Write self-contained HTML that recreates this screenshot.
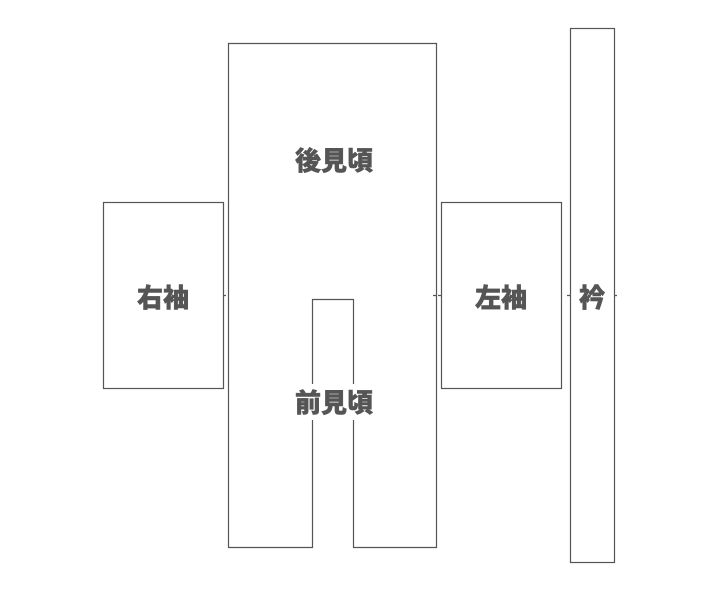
<!DOCTYPE html>
<html><head><meta charset="utf-8"><style>
html,body{margin:0;padding:0;background:#fff;width:720px;height:600px;overflow:hidden}
text{font-family:"Liberation Sans","Noto Sans CJK JP",sans-serif;font-weight:900;font-size:26px;fill:#555;stroke:#555;stroke-width:0.5}
</style></head><body>
<svg width="720" height="600" xmlns="http://www.w3.org/2000/svg">
<g fill="none" stroke="#555" stroke-width="1.2">
<path d="M228.5 43.5 H436.5 V547.5 H353.5 V299.5 H312.5 V547.5 H228.5 Z"/>
<rect x="103.5" y="202.5" width="120" height="186"/>
<rect x="441.5" y="202.5" width="120" height="186"/>
<rect x="570.5" y="28.5" width="44" height="534"/>
<path d="M223 295.5h3M433 295.5h3M438 295.5h3M567 295.5h3M614 295.5h3"/>
</g>
<rect x="288" y="384" width="92" height="36" fill="#fff"/>
<text x="334" y="170" text-anchor="middle">後見頃</text>
<text x="334" y="412" text-anchor="middle">前見頃</text>
<text x="163" y="307" text-anchor="middle">右袖</text>
<text x="501" y="307" text-anchor="middle">左袖</text>
<text x="592" y="307" text-anchor="middle">衿</text>
</svg>
</body></html>
